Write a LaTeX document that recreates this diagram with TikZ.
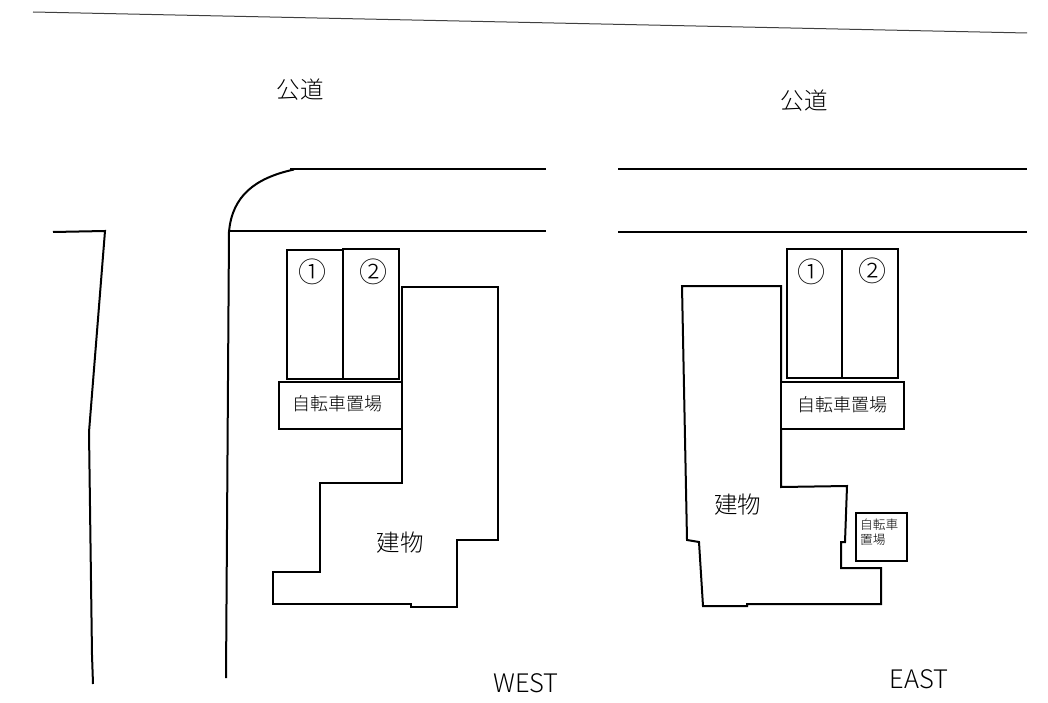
\documentclass[tikz,border=0pt]{standalone}
\usepackage{fontspec}
\setmainfont{Noto Sans CJK JP}[UprightFont=* Light]
\tikzset{
  ln/.style={draw=black,line width=2pt,line join=miter},
  thin ln/.style={draw=black!75,line width=1pt},
  lab/.style={inner sep=0pt,text=black},
  big/.style={lab,font=\fontsize{23.5}{25}\selectfont},
  mid/.style={lab,font=\fontsize{18}{20}\selectfont},
  circ/.style={lab,font=\fontsize{28}{30}\selectfont},
  small/.style={lab,font=\fontsize{12.7}{15}\selectfont,align=left},
  latin/.style={lab,font=\fontsize{25.5}{27}\selectfont},
}
\begin{document}
\begin{tikzpicture}[x=1pt,y=-1pt]
\useasboundingbox (0,0) rectangle (1048,703);
% sky line
\draw[thin ln] (33,12) -- (1027,33);
% left road edge
\draw[ln] (53,232) -- (105,231) -- (89,432) -- (92,655) -- (93,684);
% west road
\draw[ln] (546,169) -- (290,169);
\draw[ln] (294,169.5) .. controls (255,178) and (232,196) .. (229,232);
\draw[ln] (230,231) -- (546,231);
\draw[ln] (229,231) -- (226,678);
% east road
\draw[ln] (618,169) -- (1027,169);
\draw[ln] (618,232) -- (1027,232);
% west building
\draw[ln] (402,287) -- (498,287) -- (498,540) -- (457,540) -- (457,607) -- (411,607) -- (411,604) -- (273,604) -- (273,572) -- (320,572) -- (320,483) -- (402,483) -- cycle;
% west parking
\draw[ln] (287,250) rectangle (343,379);
\draw[ln] (343,249) rectangle (399,379);
\draw[ln,fill=white] (279,382) rectangle (402,429);
% east building
\draw[ln] (682,286) -- (781,286) -- (781,487) -- (847,486) -- (845,542) -- (841,542) -- (841,568) -- (881,568) -- (881,604) -- (747,604) -- (747,606) -- (703,606) -- (699,542) -- (687,540) -- cycle;
% east parking
\draw[ln] (787,249) rectangle (842,378);
\draw[ln] (842,249) rectangle (898,378);
\draw[ln,fill=white] (781,382) rectangle (904,429);
\draw[ln] (856,513) rectangle (907,561);
% labels
\node[big] (roadw) at (300,90) {公道};
\node[big] (roade) at (804,101) {公道};
\node[circ] (c1w) at (312,271.5) {①};
\node[circ] (c2w) at (373,271.5) {②};
\node[circ] (c1e) at (811,271.5) {①};
\node[circ] (c2e) at (872,270.5) {②};
\node[mid] (bikew) at (337,404) {自転車置場};
\node[mid] (bikee) at (842,405) {自転車置場};
\node[big] (bldw) at (400,543) {建物};
\node[big] (blde) at (737.5,505) {建物};
\node[small,anchor=north west] (bikes) at (860,519) {自転車\\置場};
\node[latin] (west) at (526,683) {WEST};
\node[latin] (east) at (919,679) {EAST};
\end{tikzpicture}
\end{document}
